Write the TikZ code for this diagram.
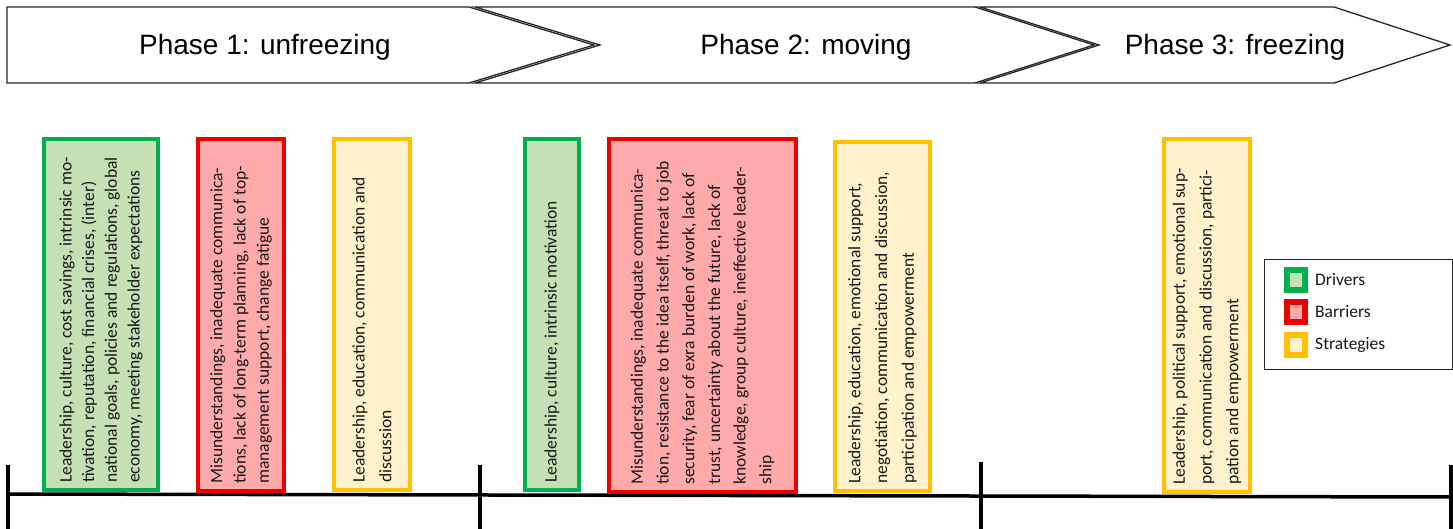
\documentclass[tikz,border=0pt]{standalone}
\usepackage{fontspec}
\setmainfont{Liberation Sans}
\newfontfamily\boxfont{Carlito}
\definecolor{drvline}{RGB}{0,176,80}
\definecolor{drvfill}{RGB}{197,224,180}
\definecolor{barline}{RGB}{236,0,0}
\definecolor{barfill}{RGB}{255,170,170}
\definecolor{strline}{RGB}{255,192,0}
\definecolor{strfill}{RGB}{255,242,204}
% one coloured card: name, style, left, top, right, bottom, line spacing, text
\newcommand\phasecard[8]{%
  \node[#2, minimum width={#5-#3-4}, minimum height={#6-#4-4}]
    (#1box) at ({(#3+#5)/2},{(#4+#6)/2}) {};
  \node[cardtext, font=\boxfont\fontsize{17.5}{#7}\selectfont]
    (#1) at ({(#3+#5)/2},{#6-9}) {#8};
}
\begin{document}
\begin{tikzpicture}[x=1pt,y=-1pt,
  phase/.style={draw=black!85, line width=1.3pt, line join=miter, fill=white},
  phaselabel/.style={font=\fontsize{28}{32}\selectfont, anchor=base, inner sep=0pt},
  card/.style={line width=4pt, inner sep=0pt},
  drivers/.style={card, draw=drvline, fill=drvfill},
  barriers/.style={card, draw=barline, fill=barfill},
  strategies/.style={card, draw=strline, fill=strfill},
  cardtext/.style={rotate=90, anchor=west, inner sep=0pt, align=left, text=black!90},
  legsq/.style={inner sep=0pt, minimum width=18pt, minimum height=20pt, line width=6pt},
  legtext/.style={anchor=west, inner sep=0pt, font=\boxfont\fontsize{17.5}{21}\selectfont, text=black!90},
  axis/.style={line width=3.5pt, black},
  tick/.style={line width=4pt, black}
]
\useasboundingbox (0,0) rectangle (1453,529);

% phase arrows
\draw[phase] (7,7) -- (469,7) -- (594,45) -- (469,83) -- (7,83) -- cycle;
\draw[phase] (475,7) -- (975,7) -- (1094,45) -- (975,83) -- (475,83) -- (600,45) -- cycle;
\draw[phase] (980,7) -- (1334,7) -- (1450,45) -- (1334,83) -- (980,83) -- (1099,45) -- cycle;
\node[phaselabel] (p1) at (265,55) {Phase 1: unfreezing};
\node[phaselabel] (p2) at (806,55) {Phase 2: moving};
\node[phaselabel] (p3) at (1235,55) {Phase 3: freezing};

% time axis with phase boundaries
\coordinate (axL) at (8,494);
\coordinate (axR) at (1453,497);
\draw[axis] (axL) -- (axR);
\coordinate (k0a) at (8,465);    \coordinate (k0b) at (8,529);
\coordinate (k1a) at (480,465);  \coordinate (k1b) at (480,529);
\coordinate (k2a) at (981,462);  \coordinate (k2b) at (981,529);
\coordinate (k3a) at (1451,465); \coordinate (k3b) at (1451,529);
\draw[tick] (k0a) -- (k0b);
\draw[tick] (k1a) -- (k1b);
\draw[tick] (k2a) -- (k2b);
\draw[tick] (k3a) -- (k3b);

% phase 1
\phasecard{d1}{drivers}{42}{137}{160}{492}{22.7}{%
Leadership, culture, cost savings, intrinsic mo-\\
tivation, reputation, financial crises, (inter)\\
national goals, policies and regulations, global\\
economy, meeting stakeholder expectations}
\phasecard{b1}{barriers}{196}{137}{286}{493}{23.3}{%
Misunderstandings, inadequate communica-\\
tions, lack of long-term planning, lack of top-\\
management support, change fatigue}
\phasecard{s1}{strategies}{332}{137}{412}{492}{26.7}{%
Leadership, education, communication and\\
discussion}

% phase 2
\phasecard{d2}{drivers}{523}{137}{581}{492}{22.7}{%
Leadership, culture, intrinsic motivation}
\phasecard{b2}{barriers}{607}{137}{798}{494}{25.7}{%
Misunderstandings, inadequate communica-\\
tion, resistance to the idea itself, threat to job\\
security, fear of exra burden of work, lack of\\
trust, uncertainty about the future, lack of\\
knowledge, group culture, ineffective leader-\\
ship}
\phasecard{s2}{strategies}{833}{140}{932}{493}{26.7}{%
Leadership, education, emotional support,\\
negotiation, communication and discussion,\\
participation and empowerment}

% phase 3
\phasecard{s3}{strategies}{1162}{137}{1252}{494}{26.7}{%
Leadership, political support, emotional sup-\\
port, communication and discussion, partici-\\
pation and empowerment}

% legend
\node[draw=black!85, line width=1pt, fill=white, inner sep=0pt,
      minimum width=188pt, minimum height=110pt, anchor=north west]
  (legend) at (1264,259) {};
\node[legsq, draw=drvline, fill=drvfill] (ld) at (1296,280) {};
\node[legsq, draw=barline, fill=barfill] (lb) at (1296,312) {};
\node[legsq, draw=strline, fill=strfill] (ls) at (1296,345) {};
\node[legtext] (ldt) at (1315,280) {Drivers};
\node[legtext] (lbt) at (1315,312) {Barriers};
\node[legtext] (lst) at (1315,345) {Strategies};
\end{tikzpicture}
\end{document}
